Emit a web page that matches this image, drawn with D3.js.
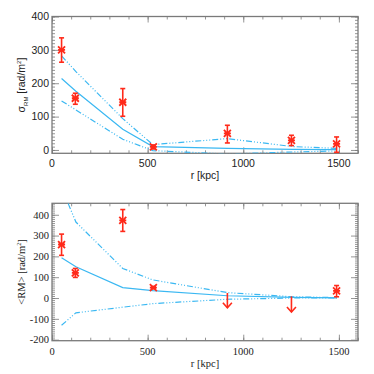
<!DOCTYPE html>
<html>
<head>
<meta charset="utf-8">
<script src="https://cdn.jsdelivr.net/npm/d3@7"></script>
<style>
  body { margin: 0; background: #fff; }
  svg { display: block; }
</style>
</head>
<body>
<div id="chart"></div>
<script>
// Observed points, top panel (sigma_RM)
var sigR = [50, 122, 370, 530, 917, 1252, 1488];
var sigVal = [300, 155, 143, 9, 50, 29, 18];
var sigLo = [263, 137, 101, 3, 21, 13, -7];
var sigHi = [336, 170, 184, 15, 74, 44, 39];

// Model curves (same radii for both panels)
var modR = [50, 125, 370, 527, 917, 1260, 1490];
var sigMid = [214, 176, 62, 10, 5, 2, 1];
var sigUp = [282, 235, 94, 16, 34, 10, 5];
var sigDown = [147, 120, 32, -2, -12, -6, -3];

// Observed points, bottom panel (<RM>)
var rmR = [50, 122, 370, 530, 1488];
var rmVal = [257, 121, 373, 50, 34];
var rmLo = [205, 99, 320, 44, 6];
var rmHi = [307, 142, 425, 56, 60];
// upper limits drawn as arrows
var limR = [917, 1252];
var limFrom = [24, 8];
var limTo = [-47, -67];

var rmMid = [194, 150, 50, 36, 11, 3, 1];
var rmUp = [530, 365, 142, 87, 26, 6, 2];
var rmDown = [-131, -71, -44, -27, -6, 0, 1];

var xTicks = [0, 500, 1000, 1500];

var W = 374, H = 374;
var red = "#ff2a1a", blue = "#3bb8f2", frame = "#7a7a7a";

var svg = d3.select("#chart").append("svg")
    .attr("width", W)
    .attr("height", H);

var x = d3.scaleLinear().domain([0, 1600]).range([52, 358]);

function panel(opts) {
    var y = d3.scaleLinear().domain(opts.ydom).range([opts.bottom, opts.top]);
    var g = svg.append("g");
    var font = opts.font;

    g.append("clipPath").attr("id", opts.id)
        .append("rect")
        .attr("x", x.range()[0]).attr("y", opts.top)
        .attr("width", x.range()[1] - x.range()[0])
        .attr("height", opts.bottom - opts.top);

    // minor ticks then major ticks, all pointing inward
    var axes = [
        [d3.axisBottom(x).tickValues(d3.range(0, 1601, 100)).tickSizeInner(-3), opts.bottom],
        [d3.axisBottom(x).tickValues(xTicks).tickSizeInner(-6), opts.bottom],
        [d3.axisTop(x).tickValues(d3.range(0, 1601, 100)).tickSizeInner(-3), opts.top],
        [d3.axisTop(x).tickValues(xTicks).tickSizeInner(-6), opts.top]
    ];
    axes.forEach(function (a) {
        g.append("g").attr("transform", "translate(0," + a[1] + ")")
            .call(a[0].tickSizeOuter(0).tickFormat(""));
    });
    var yMinor = d3.range(opts.minorStart, opts.ydom[1] + 1, 10);
    var yaxes = [
        [d3.axisLeft(y).tickValues(yMinor).tickSizeInner(-3), x.range()[0]],
        [d3.axisLeft(y).tickValues(opts.yTicks).tickSizeInner(-7), x.range()[0]],
        [d3.axisRight(y).tickValues(yMinor).tickSizeInner(-3), x.range()[1]],
        [d3.axisRight(y).tickValues(opts.yTicks).tickSizeInner(-7), x.range()[1]]
    ];
    yaxes.forEach(function (a) {
        g.append("g").attr("transform", "translate(" + a[1] + ",0)")
            .call(a[0].tickSizeOuter(0).tickFormat(""));
    });
    g.selectAll(".domain").remove();
    g.selectAll(".tick line").attr("stroke", frame).attr("stroke-width", 0.8);

    g.append("rect")
        .attr("x", x.range()[0]).attr("y", opts.top)
        .attr("width", x.range()[1] - x.range()[0])
        .attr("height", opts.bottom - opts.top)
        .attr("fill", "none").attr("stroke", frame).attr("stroke-width", 1.3);

    // tick labels
    g.selectAll(".xl").data(xTicks).enter().append("text")
        .attr("x", function (d) { return x(d); })
        .attr("y", opts.bottom + 14)
        .attr("text-anchor", "middle")
        .style("font-family", font).style("font-size", "10.5px").attr("fill", "#222")
        .text(function (d) { return d; });
    g.selectAll(".yl").data(opts.yTicks).enter().append("text")
        .attr("x", 49)
        .attr("y", function (d) { return y(d) + 3.8; })
        .attr("text-anchor", "end")
        .style("font-family", font).style("font-size", "10.5px").attr("fill", "#222")
        .text(function (d) { return d; });

    g.append("text")
        .attr("x", 205).attr("y", opts.bottom + 26)
        .attr("text-anchor", "middle")
        .style("font-family", font).style("font-size", "10.5px").attr("fill", "#222")
        .text("r [kpc]");

    // model curves
    var line = d3.line().x(function (d) { return x(d[0]); }).y(function (d) { return y(d[1]); });
    var lg = g.append("g").attr("clip-path", "url(#" + opts.id + ")");
    [[opts.up, "6,2,1,2,1,2,1,2"], [opts.mid, null], [opts.down, "6,2,1,2,1,2,1,2"]].forEach(function (c) {
        lg.append("path")
            .datum(d3.zip(modR, c[0]))
            .attr("d", line)
            .attr("fill", "none")
            .attr("stroke", blue)
            .attr("stroke-width", 1.2)
            .attr("stroke-dasharray", c[1]);
    });

    // data points with error bars
    var pts = d3.range(opts.r.length).map(function (i) {
        return { r: opts.r[i], v: opts.v[i], lo: opts.lo[i], hi: opts.hi[i] };
    });
    var pg = g.append("g").attr("stroke", red).attr("stroke-width", 1.6).attr("fill", "none");
    pts.forEach(function (p) {
        var cx = x(p.r), cy = y(p.v);
        pg.append("line").attr("x1", cx).attr("x2", cx).attr("y1", y(p.lo)).attr("y2", y(p.hi));
        pg.append("line").attr("x1", cx - 2.5).attr("x2", cx + 2.5).attr("y1", y(p.lo)).attr("y2", y(p.lo));
        pg.append("line").attr("x1", cx - 2.5).attr("x2", cx + 2.5).attr("y1", y(p.hi)).attr("y2", y(p.hi));
        // asterisk marker
        pg.append("path")
            .attr("d", "M" + (cx - 3.5) + "," + (cy - 3.5) + "L" + (cx + 3.5) + "," + (cy + 3.5) +
                "M" + (cx - 3.5) + "," + (cy + 3.5) + "L" + (cx + 3.5) + "," + (cy - 3.5) +
                "M" + (cx - 3.5) + "," + cy + "L" + (cx + 3.5) + "," + cy)
            .attr("stroke-width", 1.8);
    });

    if (opts.lim) {
        opts.lim.r.forEach(function (r, i) {
            var cx = x(r), y1 = y(opts.lim.from[i]), y2 = y(opts.lim.to[i]);
            pg.append("line").attr("x1", cx).attr("x2", cx).attr("y1", y1).attr("y2", y2);
            pg.append("path")
                .attr("d", "M" + (cx - 4.5) + "," + (y2 - 5) + "L" + cx + "," + y2 + "L" + (cx + 4.5) + "," + (y2 - 5));
        });
    }

    return { g: g, y: y };
}

// Top panel: sigma_RM
var topPanel = panel({
    id: "clipTop", top: 16.5, bottom: 153.3, ydom: [-10, 400], minorStart: 0,
    yTicks: [0, 100, 200, 300, 400], font: "'Liberation Sans', Arial, sans-serif",
    mid: sigMid, up: sigUp, down: sigDown,
    r: sigR, v: sigVal, lo: sigLo, hi: sigHi
});
var t1 = topPanel.g.append("text")
    .attr("transform", "translate(25,85) rotate(-90)")
    .attr("text-anchor", "middle")
    .style("font-family", "'Liberation Sans', Arial, sans-serif")
    .style("font-size", "10.5px").attr("fill", "#222");
t1.append("tspan").text("\u03c3");
t1.append("tspan").attr("dy", 3).style("font-size", "6px").text("RM");
t1.append("tspan").attr("dy", -3).text(" [rad/m");
t1.append("tspan").attr("dy", -4).style("font-size", "6px").text("2");
t1.append("tspan").attr("dy", 4).text("]");

// Bottom panel: <RM>
var botPanel = panel({
    id: "clipBot", top: 203.3, bottom: 340.7, ydom: [-205, 455], minorStart: -200,
    yTicks: [-200, -100, 0, 100, 200, 300, 400], font: "'Liberation Serif', 'Times New Roman', serif",
    mid: rmMid, up: rmUp, down: rmDown,
    r: rmR, v: rmVal, lo: rmLo, hi: rmHi,
    lim: { r: limR, from: limFrom, to: limTo }
});
var t2 = botPanel.g.append("text")
    .attr("transform", "translate(25,272) rotate(-90)")
    .attr("text-anchor", "middle")
    .style("font-family", "'Liberation Serif', 'Times New Roman', serif")
    .style("font-size", "10.5px").attr("fill", "#222");
t2.append("tspan").text("<RM> [rad/m");
t2.append("tspan").attr("dy", -4).style("font-size", "6px").text("2");
t2.append("tspan").attr("dy", 4).text("]");
</script>
</body>
</html>
